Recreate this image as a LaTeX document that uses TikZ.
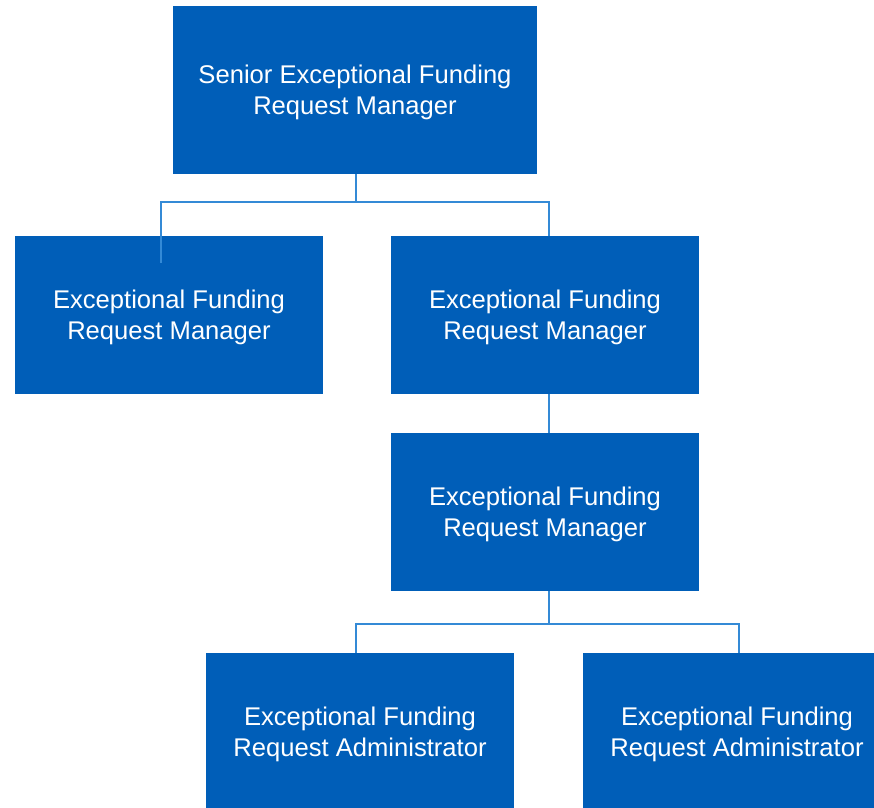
\documentclass[tikz,border=0pt]{standalone}
\usepackage{fontspec}
\setmainfont{Liberation Sans}
\definecolor{boxblue}{HTML}{005EB8}
\definecolor{linkblue}{RGB}{52,138,214}
\begin{document}
\begin{tikzpicture}[x=1pt,y=-1pt,
  orgbox/.style={rectangle, fill=boxblue, draw=none, text=white, align=center,
    minimum width=308pt, minimum height=158pt, inner sep=0pt, text depth=0pt,
    font=\fontsize{25.6}{31}\selectfont},
  conn/.style={draw=linkblue, line width=1.4pt}]
\useasboundingbox (0,0) rectangle (874,807);
\clip (0,0) rectangle (874,807);
\node[orgbox, minimum width=364pt, minimum height=168pt] (top) at (355,90) {Senior Exceptional Funding\\Request Manager};
\node[orgbox] (left) at (169,315) {Exceptional Funding\\Request Manager};
\node[orgbox] (mid) at (545,315) {Exceptional Funding\\Request Manager};
\node[orgbox] (third) at (545,512) {Exceptional Funding\\Request Manager};
\node[orgbox] (adminl) at (360,732) {Exceptional Funding\\Request Administrator};
\node[orgbox] (adminr) at (737,732) {Exceptional Funding\\Request Administrator};
\coordinate (j1) at (356,202);
\coordinate (la) at (161,263);
\coordinate (ma) at (549,236);
\coordinate (mb) at (549,394);
\coordinate (tb) at (549,591);
\coordinate (j2) at (549,624);
\coordinate (ba) at (356,653);
\coordinate (bb) at (739,653);
\draw[conn] (top.south -| j1) -- (j1) -| (la);
\draw[conn] (j1) -| (ma);
\draw[conn] (mb) -- (mb |- third.north);
\draw[conn] (tb) -- (j2) -| (ba);
\draw[conn] (j2) -| (bb);
\end{tikzpicture}
\end{document}
